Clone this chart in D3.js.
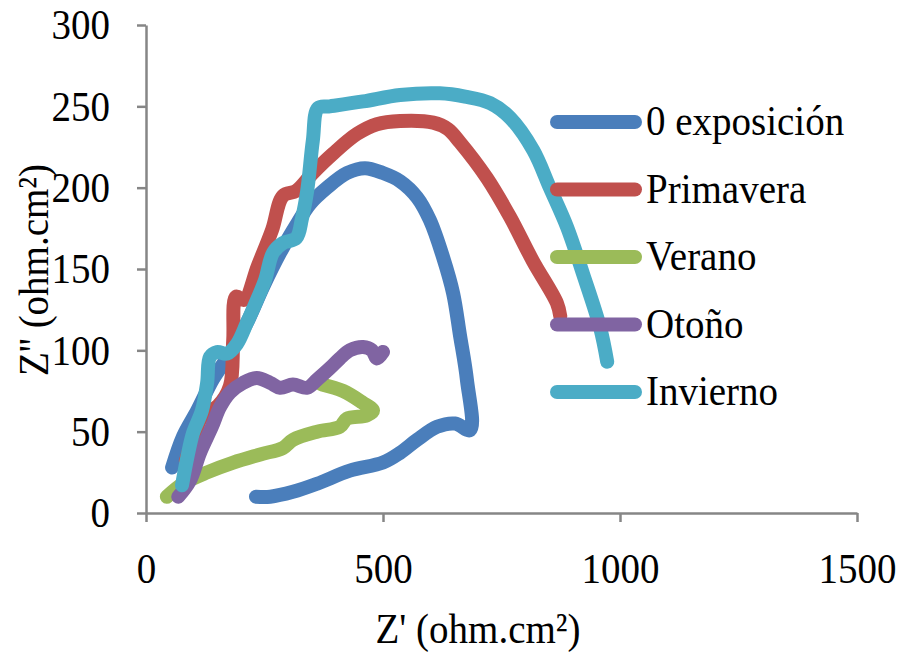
<!DOCTYPE html>
<html>
<head>
<meta charset="utf-8">
<script src="https://cdn.jsdelivr.net/npm/d3@7"></script>
<style>
  html, body { margin: 0; padding: 0; background: #fff; }
  svg { display: block; }
  text { font-family: "Liberation Serif", "Times New Roman", serif; fill: #000; }
</style>
</head>
<body>
<svg id="chart" width="899" height="655"></svg>
<script>
// Nyquist diagrams: Z' (real) vs Z'' (imaginary), ohm.cm², by exposure season
const seriesNames = ["0 exposición", "Primavera", "Verano", "Otoño", "Invierno"];
const seriesColors = ["#4A7EBB", "#C0504D", "#9BBB59", "#8064A2", "#4BACC6"];

const ceroExposicion = [[55,28],[78,47],[108,63],[141,82],[177,98],[213,117],[247,139],[283,160],[319,178],[346,190],[382,200],[424,209],[462,212],[500,209],[536,204],[572,194],[599,180],[627,157],[648,135],[662,110],[677,82],[684,51],[652,55],[614,53],[572,45],[536,37],[500,31],[430,26],[361,18],[310,13],[262,10],[232,10]];
const primavera = [[84,32],[100,46],[120,60],[152,66],[177,78],[184,106],[190,133],[207,131],[236,152],[266,174],[289,195],[317,198],[352,209],[395,221],[445,233],[487,239],[536,241],[606,240],[637,236],[662,228],[719,206],[768,182],[816,155],[867,129],[874,121]];
const verano = [[44,10],[78,18],[129,25],[184,31],[241,36],[289,40],[310,45],[361,50],[409,53],[424,58],[466,60],[479,63],[456,68],[416,75],[371,79]];
const otono = [[68,10],[93,20],[114,37],[139,53],[156,65],[177,74],[205,80],[234,83],[262,80],[283,77],[310,79],[340,77],[361,82],[388,89],[409,95],[430,100],[458,102],[477,100],[487,95],[500,99]];
const invierno = [[76,17],[87,34],[99,49],[118,63],[129,80],[135,96],[150,99],[171,98],[192,104],[213,117],[234,131],[251,143],[268,160],[289,166],[317,169],[329,181],[340,198],[352,229],[363,249],[388,250],[458,253],[536,257],[620,258],[673,256],[726,252],[768,243],[817,223],[852,200],[888,176],[922,147],[958,114],[973,93]];

const xTicks = [0, 500, 1000, 1500];
const yTicks = [0, 50, 100, 150, 200, 250, 300];
const xTitle = "Z' (ohm.cm²)";
const yTitle = "Z'' (ohm.cm²)";

const allSeries = [ceroExposicion, primavera, verano, otono, invierno];

const svg = d3.select("#chart");
const plot = { left: 146, right: 857, top: 25, bottom: 513 };
const fontSize = 39;
const stretch = 1.1;

const x = d3.scaleLinear().domain([0, 1500]).range([plot.left, plot.right]);
const y = d3.scaleLinear().domain([0, 300]).range([plot.bottom, plot.top]);

const axisColor = "#868686";

// Axes
const gx = svg.append("g")
  .attr("transform", `translate(0,${plot.bottom})`)
  .call(d3.axisBottom(x).tickValues(xTicks).tickSize(9).tickSizeOuter(0).tickPadding(27).tickFormat(d3.format("d")));
const gy = svg.append("g")
  .attr("transform", `translate(${plot.left},0)`)
  .call(d3.axisLeft(y).tickValues(yTicks).tickSize(9).tickSizeOuter(0).tickPadding(27).tickFormat(d3.format("d")));

[gx, gy].forEach(g => {
  g.select(".domain").attr("stroke", axisColor).attr("stroke-width", 2.5);
  g.selectAll(".tick line").attr("stroke", axisColor).attr("stroke-width", 2.5);
  g.selectAll(".tick text")
    .attr("font-family", "Liberation Serif, Times New Roman, serif")
    .attr("font-size", fontSize)
    .attr("fill", "#000")
    .attr("transform", `scale(1,${stretch})`);
});

// Series lines (smoothed)
const line = d3.line()
  .x(d => x(d[0]))
  .y(d => y(d[1]))
  .curve(d3.curveCatmullRom.alpha(0.5));
svg.append("g").selectAll("path")
  .data(allSeries)
  .join("path")
  .attr("d", line)
  .attr("fill", "none")
  .attr("stroke", (d, i) => seriesColors[i])
  .attr("stroke-width", 14)
  .attr("stroke-linecap", "round")
  .attr("stroke-linejoin", "round");

// Legend
const legend = svg.append("g");
const legendTop = 122, legendStep = 67.5;
seriesNames.forEach((name, i) => {
  const ly = legendTop + i * legendStep;
  legend.append("line")
    .attr("x1", 557).attr("x2", 635)
    .attr("y1", ly).attr("y2", ly)
    .attr("stroke", seriesColors[i])
    .attr("stroke-width", 14)
    .attr("stroke-linecap", "round");
  legend.append("text")
    .attr("transform", `translate(646,${ly + 13}) scale(1,${stretch})`)
    .attr("font-size", fontSize)
    .text(name);
});

// Axis titles
svg.append("text")
  .attr("transform", `translate(478,643) scale(1,${stretch})`)
  .attr("text-anchor", "middle")
  .attr("font-size", fontSize)
  .text(xTitle);
svg.append("text")
  .attr("transform", `translate(48,270) rotate(-90) scale(1,${stretch})`)
  .attr("text-anchor", "middle")
  .attr("font-size", fontSize)
  .text(yTitle);
</script>
</body>
</html>
